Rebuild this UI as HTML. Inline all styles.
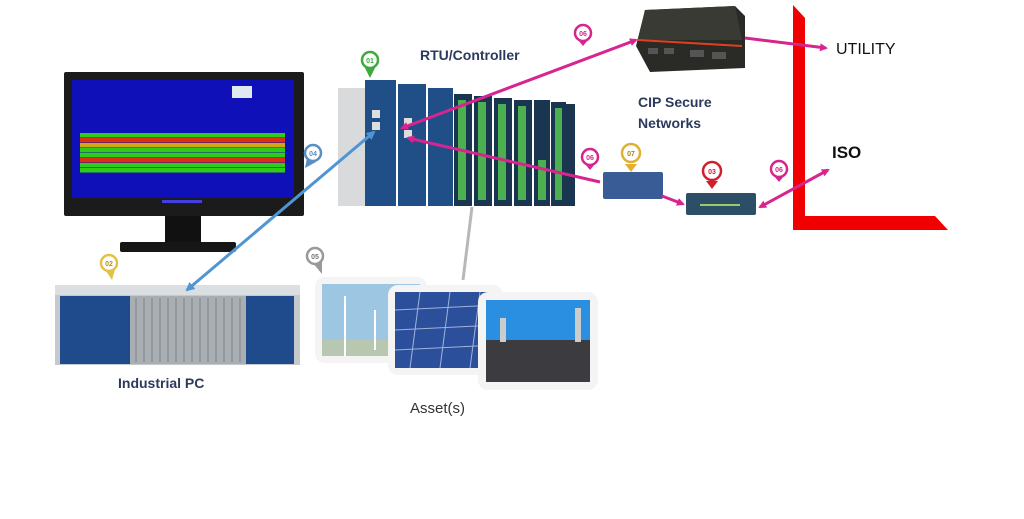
<!DOCTYPE html>
<html><head><meta charset="utf-8"><style>
html,body{margin:0;padding:0;background:#fff;}
svg{display:block;font-family:"Liberation Sans",sans-serif;}
</style></head><body>
<svg width="1024" height="519" viewBox="0 0 1024 519" xmlns="http://www.w3.org/2000/svg">
<defs>
<marker id="mm" markerWidth="8" markerHeight="8" refX="6" refY="4" orient="auto" markerUnits="userSpaceOnUse"><path d="M0,0 L8,4 L0,8 z" fill="#d6258f"/></marker>
<marker id="mms" markerWidth="8" markerHeight="8" refX="2" refY="4" orient="auto" markerUnits="userSpaceOnUse"><path d="M8,0 L0,4 L8,8 z" fill="#d6258f"/></marker>
<marker id="mb" markerWidth="9" markerHeight="9" refX="7" refY="4.5" orient="auto" markerUnits="userSpaceOnUse"><path d="M0,0 L9,4.5 L0,9 z" fill="#4f95d3"/></marker>
<marker id="mbs" markerWidth="9" markerHeight="9" refX="2" refY="4.5" orient="auto" markerUnits="userSpaceOnUse"><path d="M9,0 L0,4.5 L9,9 z" fill="#4f95d3"/></marker>
</defs>
<rect width="1024" height="519" fill="#fff"/>

<!-- Monitor -->
<rect x="64" y="72" width="240" height="144" fill="#1b1b1b" rx="2"/>
<rect x="72" y="80" width="222" height="118" fill="#1010b8"/>
<rect x="80" y="133" width="205" height="4.5" fill="#2ecb17"/>
<rect x="80" y="138" width="205" height="4.5" fill="#d83010"/>
<rect x="80" y="143" width="205" height="4.5" fill="#cfa715"/>
<rect x="80" y="148" width="205" height="4.5" fill="#2ecb17"/>
<rect x="80" y="153" width="205" height="4.5" fill="#2ecb17"/>
<rect x="80" y="158" width="205" height="4.5" fill="#d83010"/>
<rect x="80" y="163" width="205" height="4.5" fill="#2ecb17"/>
<rect x="80" y="168" width="205" height="4.5" fill="#2ecb17"/>
<rect x="232" y="86" width="20" height="12" fill="#e0e8f0"/>
<rect x="162" y="200" width="40" height="3" fill="#4040e0"/>
<rect x="165" y="216" width="36" height="28" fill="#111"/>
<rect x="120" y="242" width="116" height="10" fill="#161616" rx="2"/>

<!-- RTU -->
<rect x="338" y="88" width="30" height="118" fill="#d8dadc"/>
<rect x="365" y="80" width="31" height="126" fill="#1f4f86"/>
<rect x="398" y="84" width="28" height="122" fill="#1f4f86"/>
<rect x="428" y="88" width="25" height="118" fill="#1f4f86"/>
<g fill="#1a3550">
<rect x="454" y="94" width="18" height="112"/><rect x="474" y="96" width="18" height="110"/>
<rect x="494" y="98" width="18" height="108"/><rect x="514" y="100" width="18" height="106"/>
<rect x="534" y="100" width="16" height="106"/><rect x="551" y="102" width="15" height="104"/>
<rect x="566" y="104" width="9" height="102"/>
</g>
<g fill="#4caf50">
<rect x="458" y="100" width="8" height="100"/><rect x="478" y="102" width="8" height="98"/>
<rect x="498" y="104" width="8" height="96"/><rect x="518" y="106" width="8" height="94"/>
<rect x="538" y="160" width="8" height="40"/><rect x="555" y="108" width="7" height="92"/>
</g>
<g fill="#ddd"><rect x="372" y="110" width="8" height="8"/><rect x="372" y="122" width="8" height="8"/><rect x="404" y="118" width="8" height="8"/><rect x="404" y="130" width="8" height="8"/></g>

<!-- Industrial PC -->
<rect x="55" y="285" width="245" height="80" fill="#c6c9cc"/>
<rect x="55" y="285" width="245" height="10" fill="#dcdfe2"/>
<rect x="60" y="296" width="70" height="68" fill="#1f4a8c"/>
<rect x="130" y="296" width="116" height="68" fill="#a9aeb2"/>
<g stroke="#8d9297" stroke-width="1.5">
<line x1="136" y1="298" x2="136" y2="362"/><line x1="144" y1="298" x2="144" y2="362"/><line x1="152" y1="298" x2="152" y2="362"/><line x1="160" y1="298" x2="160" y2="362"/><line x1="168" y1="298" x2="168" y2="362"/><line x1="176" y1="298" x2="176" y2="362"/><line x1="184" y1="298" x2="184" y2="362"/><line x1="192" y1="298" x2="192" y2="362"/><line x1="200" y1="298" x2="200" y2="362"/><line x1="208" y1="298" x2="208" y2="362"/><line x1="216" y1="298" x2="216" y2="362"/><line x1="224" y1="298" x2="224" y2="362"/><line x1="232" y1="298" x2="232" y2="362"/><line x1="240" y1="298" x2="240" y2="362"/>
</g>
<rect x="246" y="296" width="48" height="68" fill="#1f4a8c"/>

<!-- Asset photos -->
<rect x="315" y="277" width="112" height="86" fill="#f4f4f4" rx="10"/>
<rect x="322" y="284" width="98" height="72" fill="#9cc6e2"/>
<rect x="322" y="340" width="98" height="16" fill="#b8c8b0"/>
<line x1="345" y1="296" x2="345" y2="356" stroke="#fff" stroke-width="2"/>
<line x1="375" y1="310" x2="375" y2="350" stroke="#fff" stroke-width="2"/>
<rect x="388" y="285" width="115" height="90" fill="#f4f4f4" rx="10"/>
<rect x="395" y="292" width="102" height="76" fill="#2b4f9a"/>
<g stroke="#9fb3da" stroke-width="1"><line x1="395" y1="310" x2="497" y2="305"/><line x1="395" y1="330" x2="497" y2="325"/><line x1="395" y1="350" x2="497" y2="345"/><line x1="420" y1="292" x2="410" y2="368"/><line x1="450" y1="292" x2="440" y2="368"/><line x1="480" y1="292" x2="470" y2="368"/></g>
<rect x="478" y="292" width="120" height="98" fill="#f4f4f4" rx="10"/>
<rect x="486" y="300" width="104" height="82" fill="#2a8fe0"/>
<rect x="486" y="340" width="104" height="42" fill="#3c3c40"/>
<rect x="500" y="318" width="6" height="24" fill="#ccc"/><rect x="575" y="308" width="6" height="34" fill="#ccc"/>

<!-- Top router -->
<path d="M645,10 L735,6 L745,16 L745,68 L650,72 L636,46 Z" fill="#2a2a26"/>
<path d="M645,10 L735,6 L742,40 L638,40 Z" fill="#3a3a34"/>
<path d="M638,40 L742,46" stroke="#e04020" stroke-width="2"/>
<g fill="#555"><rect x="648" y="48" width="10" height="6"/><rect x="664" y="48" width="10" height="6"/><rect x="690" y="50" width="14" height="7"/><rect x="712" y="52" width="14" height="7"/></g>
<!-- Device 07 -->
<rect x="603" y="172" width="60" height="27" fill="#3a5c96" rx="2"/>
<!-- Device 03 -->
<rect x="686" y="193" width="70" height="22" fill="#2c4e66" rx="2"/>
<rect x="700" y="204" width="40" height="2" fill="#9c6"/>

<!-- Red L -->
<path d="M793,5 L805,18 L805,216 L935,216 L948,230 L793,230 Z" fill="#f00000"/>

<!-- Connectors -->
<line x1="463" y1="280" x2="472" y2="207" stroke="#b8b8b8" stroke-width="3"/>
<line x1="187" y1="290" x2="374" y2="132" stroke="#4f95d3" stroke-width="3" marker-start="url(#mbs)" marker-end="url(#mb)"/>
<line x1="402" y1="128" x2="636" y2="40" stroke="#d6258f" stroke-width="3" marker-start="url(#mms)" marker-end="url(#mm)"/>
<line x1="745" y1="38" x2="826" y2="48" stroke="#d6258f" stroke-width="3" marker-end="url(#mm)"/>
<line x1="408" y1="138" x2="600" y2="182" stroke="#d6258f" stroke-width="3" marker-start="url(#mms)"/>
<line x1="662" y1="196" x2="683" y2="204" stroke="#d6258f" stroke-width="3" marker-end="url(#mm)"/>
<line x1="760" y1="207" x2="828" y2="170" stroke="#d6258f" stroke-width="3" marker-start="url(#mms)" marker-end="url(#mm)"/>

<!-- Pins -->
<g font-size="7" text-anchor="middle" font-weight="bold">
<g><path d="M370,78 L364,66 L376,66 Z" fill="#3cab3c"/><circle cx="370" cy="60" r="8" fill="#fff" stroke="#3cab3c" stroke-width="2.5"/><text x="370" y="63" fill="#3cab3c">01</text></g>
<g><path d="M112,280 L104,268 L116,266 Z" fill="#e2c240"/><circle cx="109" cy="263" r="8" fill="#fff" stroke="#e2c240" stroke-width="2.5"/><text x="109" y="266" fill="#b09020">02</text></g>
<g><path d="M305,168 L307,158 L316,162 Z" fill="#5a8fc0"/><circle cx="313" cy="153" r="8" fill="#fff" stroke="#5a8fc0" stroke-width="2.5"/><text x="313" y="156" fill="#5a8fc0">04</text></g>
<g><path d="M322,274 L312,262 L322,260 Z" fill="#999"/><circle cx="315" cy="256" r="8" fill="#fff" stroke="#999" stroke-width="2.5"/><text x="315" y="259" fill="#777">05</text></g>
<g><path d="M583,46 L578,40 L588,40 Z" fill="#d6258f"/><circle cx="583" cy="33" r="8" fill="#fff" stroke="#d6258f" stroke-width="2.5"/><text x="583" y="36" fill="#d6258f">06</text></g>
<g><path d="M590,170 L585,164 L595,164 Z" fill="#d6258f"/><circle cx="590" cy="157" r="8" fill="#fff" stroke="#d6258f" stroke-width="2.5"/><text x="590" y="160" fill="#d6258f">06</text></g>
<g><path d="M779,182 L774,176 L784,176 Z" fill="#d6258f"/><circle cx="779" cy="169" r="8" fill="#fff" stroke="#d6258f" stroke-width="2.5"/><text x="779" y="172" fill="#d6258f">06</text></g>
<g><path d="M631,172 L625,164 L637,164 Z" fill="#e2b030"/><circle cx="631" cy="153" r="9" fill="#fff" stroke="#e2b030" stroke-width="2.5"/><text x="631" y="156" fill="#b08010">07</text></g>
<g><path d="M712,189 L706,181 L718,181 Z" fill="#d02030"/><circle cx="712" cy="171" r="9" fill="#fff" stroke="#d02030" stroke-width="2.5"/><text x="712" y="174" fill="#d02030">03</text></g>
</g>

<!-- Labels -->
<g font-weight="bold" fill="#2b3a5c" font-size="14">
<text x="420" y="60">RTU/Controller</text>
<text x="638" y="107">CIP Secure</text>
<text x="638" y="128">Networks</text>
<text x="118" y="388">Industrial PC</text>
</g>
<text x="410" y="413" font-size="15" fill="#333">Asset(s)</text>
<text x="836" y="54" font-size="16" fill="#111">UTILITY</text>
<text x="832" y="158" font-size="17" font-weight="bold" fill="#111">ISO</text>
</svg>
</body></html>
